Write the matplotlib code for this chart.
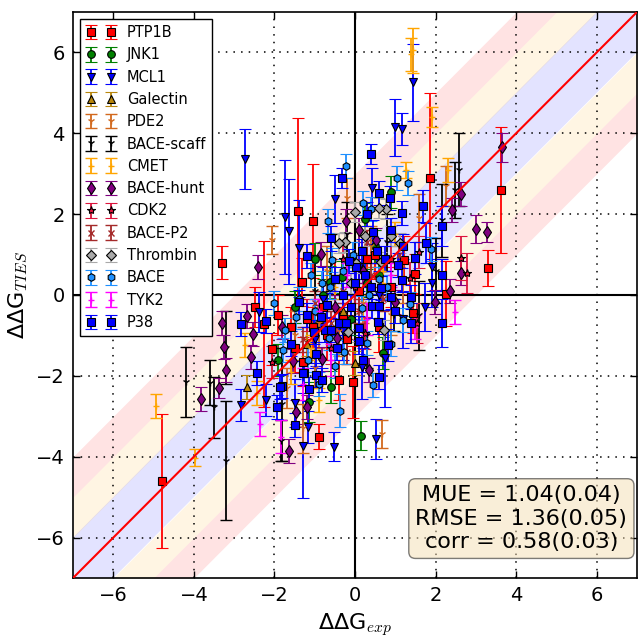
import numpy as np
import matplotlib
matplotlib.use('Agg')
import matplotlib.pyplot as plt

plt.rcParams['mathtext.fontset'] = 'cm'

# (dG_exp, dG_TIES, error)
ptp1b = [(-4.8, -4.6, 1.65), (-3.3, 0.8, 0.4), (-2.47, -0.3, 0.5), (-2.25, -0.72, 2.05),
         (-2.07, -1.33, 0.4), (-1.41, 2.07, 2.3), (-1.04, 1.83, 1.4), (-1.31, 0.32, 0.6),
         (-1.04, -0.79, 0.5), (-1.28, -1.65, 0.6), (-0.89, -3.5, 0.3), (-0.4, -2.1, 0.5),
         (-0.05, -2.15, 0.9), (1.85, 2.9, 2.1), (1.48, 0.52, 0.5), (1.21, 0.86, 0.6),
         (1.43, -0.45, 0.5), (2.25, 0.03, 0.8), (3.3, 0.67, 0.45), (3.63, 2.6, 1.55),
         (-0.8, -0.3, 0.6), (-0.5, 0.4, 0.5), (0.3, 0.9, 0.7), (0.6, -0.8, 0.6),
         (-1.6, -0.8, 0.5), (0.9, 0.2, 0.5), (-0.2, -1.1, 0.6), (-1.9, -0.5, 0.5),
         (-1.2, -0.6, 0.5), (-0.7, -1.0, 0.6), (0.1, 0.1, 0.5), (0.5, 1.0, 0.6),
         (-1.5, -1.3, 0.6), (-0.3, -0.5, 0.5)]
jnk1 = [(0.15, -3.48, 0.36), (-0.99, 0.89, 0.4), (-0.62, 0.32, 0.4), (0.25, 1.88, 0.4),
        (0.89, 2.54, 0.4), (0.69, -1.43, 0.4), (-0.59, -2.27, 0.4), (-1.14, -2.64, 0.5),
        (-0.32, 0.45, 0.4), (-1.5, -0.3, 0.4), (0.5, 1.2, 0.4), (-0.1, -0.6, 0.4),
        (-1.9, -1.6, 0.4), (0.3, 0.3, 0.35), (-0.8, 0.0, 0.4), (0.6, 0.5, 0.4)]
mcl1 = [(-2.72, 3.36, 0.75), (1.43, 5.26, 0.95), (0.99, 4.15, 0.7), (1.16, 4.1, 0.4),
        (-1.75, 1.93, 1.4), (-1.65, 1.58, 1.3), (-1.38, 1.16, 1.2), (-0.49, 2.37, 0.6),
        (0.42, 2.64, 0.5), (1.9, 0.69, 0.6), (1.9, 0.3, 0.6), (1.73, -0.3, 0.6),
        (0.74, -1.56, 1.2), (0.17, -1.78, 0.8), (-2.39, -0.42, 0.5), (-2.84, -2.72, 0.4),
        (-2.22, -2.59, 0.4), (-1.28, -3.73, 1.3), (-0.52, -3.75, 0.35), (0.52, -3.56, 0.5),
        (-1.16, -3.26, 0.4), (-1.48, -2.67, 0.6), (-0.8, -0.1, 0.8), (0.1, 0.7, 0.6),
        (-0.3, -0.9, 0.7), (1.2, -0.6, 0.7), (-1.0, -1.1, 0.7), (0.6, 0.0, 0.6)]
galectin = [(-2.69, -2.27, 0.3), (0.0, -1.68, 0.3), (-0.9, -0.6, 0.3), (0.4, 0.2, 0.3),
            (-0.3, -0.4, 0.3), (-1.2, -1.2, 0.3)]
pde2 = [(-2.07, 1.36, 0.35), (0.66, -3.43, 0.35), (2.25, 2.7, 0.5), (-1.7, -2.3, 0.5),
        (-1.3, -3.3, 0.6), (-1.0, -1.8, 0.5), (-0.4, -0.9, 0.6), (0.4, 1.2, 0.5),
        (-0.7, 0.6, 0.6), (1.2, 0.3, 0.5), (-1.5, -1.0, 0.6), (0.9, -0.5, 0.5),
        (-0.2, 2.4, 0.5), (1.6, 1.9, 0.6), (-0.9, -0.7, 0.6), (0.2, -0.2, 0.5)]
bace_scaff = [(-4.2, -2.15, 0.86), (-3.6, -2.17, 0.55), (-3.5, -2.78, 0.75), (-3.19, -1.3, 0.9),
              (-3.19, -4.1, 1.47), (-1.8, -2.7, 1.4), (-1.83, -3.6, 0.5), (2.59, 3.1, 0.9),
              (2.47, 2.6, 0.7), (2.17, 1.85, 0.9), (1.58, -0.5, 0.85), (0.96, -0.5, 0.4),
              (-0.6, 0.8, 0.7), (0.3, -1.0, 0.8), (-1.0, 0.1, 0.9), (0.8, 1.3, 0.7),
              (2.0, 0.6, 0.8), (-0.2, 1.5, 0.8)]
cmet = [(-4.94, -2.74, 0.3), (-3.98, -4.02, 0.2), (-2.74, -1.23, 0.3), (-2.44, -2.42, 0.3),
        (1.45, 6.05, 0.55), (1.38, 5.95, 0.4), (1.26, 3.1, 0.2), (1.9, 4.4, 0.25),
        (2.32, 3.1, 0.3), (-1.1, -1.3, 0.3), (-0.5, 0.2, 0.3), (0.2, -0.3, 0.3),
        (0.7, 0.6, 0.3), (-1.6, -1.9, 0.3), (1.0, 1.5, 0.3), (-0.9, -2.6, 0.3)]
bace_hunt = [(-3.31, -0.69, 0.3), (-3.26, -1.28, 0.3), (-3.21, -1.85, 0.3), (-3.38, -2.3, 0.25),
             (-3.83, -2.57, 0.3), (-2.69, -0.52, 0.3), (-2.52, -0.96, 0.3), (-2.57, -1.53, 0.3),
             (-1.63, -3.85, 0.3), (-2.42, 0.69, 0.3), (-0.22, 1.83, 0.3), (-0.84, 1.01, 0.3),
             (0.52, 1.36, 0.3), (2.42, 2.1, 0.3), (2.62, 0.54, 0.3), (1.98, -0.17, 0.3),
             (1.0, -0.17, 0.3), (0.35, -1.85, 0.3), (-1.53, -1.63, 0.3), (-1.8, -0.79, 0.3),
             (-0.44, -1.06, 0.3), (-0.81, -1.58, 0.3), (3.65, 3.65, 0.35), (3.0, 1.63, 0.35),
             (3.28, 1.55, 0.25), (2.62, 2.49, 0.3), (2.37, 0.1, 0.3), (-1.46, -2.89, 0.3),
             (-1.19, -2.77, 0.3), (0.2, 0.6, 0.3), (-0.5, -0.3, 0.3), (0.1, 1.6, 0.3)]
cdk2 = [(2.64, 0.91, 0.55), (2.79, 0.54, 0.5), (1.53, -0.69, 0.5), (1.58, 1.06, 0.4),
        (1.36, 0.42, 0.4), (0.25, -0.94, 0.4), (-2.07, -1.65, 0.4), (-0.6, -1.3, 0.4),
        (0.0, 0.2, 0.4), (-1.2, -0.5, 0.4), (0.9, 0.9, 0.4), (-0.3, 0.9, 0.4)]
bace_p2 = [(-0.3, 0.1, 0.3), (0.1, -0.4, 0.3), (-0.6, -0.7, 0.3), (0.4, 0.5, 0.3),
           (-1.0, -0.2, 0.3), (0.7, -0.1, 0.3), (-0.2, -1.4, 0.3), (1.1, 1.0, 0.3),
           (-1.3, -1.1, 0.3), (0.3, 1.3, 0.3)]
thrombin = [(-0.25, 1.31, 0.25), (0.02, 0.79, 0.25), (0.89, 1.46, 0.25), (0.77, 2.12, 0.25),
            (1.11, 1.28, 0.25), (0.0, 2.05, 0.25), (0.72, -0.86, 0.25), (-0.17, -0.91, 0.25),
            (0.59, 2.15, 0.25), (-0.4, 1.28, 0.25), (0.64, 0.81, 0.25), (0.25, 1.46, 0.25),
            (-0.1, 0.3, 0.25)]
bace = [(-0.22, 3.2, 0.3), (1.04, 2.9, 0.3), (-0.67, 1.83, 0.3), (1.31, 2.77, 0.3),
        (0.4, 2.12, 0.3), (0.2, 2.27, 0.3), (-0.57, 0.86, 0.3), (-0.81, 0.3, 0.3),
        (-0.62, 0.2, 0.3), (0.17, -0.32, 0.3), (1.36, -0.22, 0.3), (1.19, -0.62, 0.3),
        (-1.46, -0.54, 0.3), (-1.75, -0.86, 0.3), (-1.78, -1.36, 0.3), (-1.16, -1.6, 0.3),
        (-0.64, -1.06, 0.3), (0.3, -1.19, 0.3), (-0.27, -1.41, 0.3), (0.44, -2.22, 0.3),
        (-0.49, -1.75, 0.3), (1.88, 1.14, 0.3), (-0.37, -2.86, 0.4), (-1.1, 0.5, 0.3),
        (0.6, 0.4, 0.3), (-0.05, 1.0, 0.3), (-1.4, -0.1, 0.3), (0.9, -1.2, 0.3),
        (-0.9, -2.2, 0.3), (-2.0, -0.2, 0.3), (-0.3, 0.6, 0.3), (0.35, 0.0, 0.3),
        (-1.0, -0.4, 0.3), (0.8, 0.2, 0.3)]
tyk2 = [(-2.37, -3.19, 0.3), (2.47, -0.42, 0.3), (-1.83, -3.5, 0.4), (-1.3, -2.2, 0.4),
        (-0.6, -1.6, 0.4), (0.3, -0.6, 0.4), (0.9, 0.5, 0.3), (-0.9, -0.4, 0.3),
        (1.5, -0.8, 0.3), (-0.2, 0.5, 0.3)]
p38 = [(0.4, 3.48, 0.25), (-0.32, 2.9, 0.25), (0.59, 2.52, 0.3), (0.86, 2.4, 0.3),
       (1.16, 2.02, 0.3), (1.68, 2.2, 0.4), (1.75, 1.28, 0.5), (2.15, 1.7, 0.5),
       (1.48, 0.91, 0.4), (1.06, 0.74, 0.3), (2.15, 0.49, 0.4), (1.16, 0.37, 0.3),
       (0.17, 1.09, 0.3), (0.55, 1.1, 0.3), (0.02, 0.69, 0.3), (0.0, 0.3, 0.3),
       (0.4, 0.2, 0.3), (0.64, 0.17, 0.3), (1.38, -0.05, 0.3), (0.42, -0.27, 0.3),
       (0.59, -0.27, 0.3), (-0.1, -0.3, 0.3), (2.15, -0.69, 0.6), (1.38, -0.69, 0.5),
       (-1.38, -0.17, 0.3), (-1.19, -0.49, 0.3), (-1.01, -0.91, 0.3), (-0.74, -0.86, 0.3),
       (-0.59, -0.86, 0.3), (-0.4, -0.69, 0.3), (-0.22, -0.69, 0.3), (0.1, -0.81, 0.3),
       (0.57, -0.67, 0.3), (0.81, -1.23, 0.4), (-0.96, -1.46, 0.3), (-1.26, -1.93, 0.3),
       (-0.96, -1.98, 0.3), (-0.81, -2.1, 0.3), (-1.14, -2.32, 0.3), (-1.8, -2.25, 0.3),
       (-2.44, -1.93, 0.3), (0.59, -2.02, 0.3), (-2.84, -0.72, 0.3), (-2.2, -0.64, 0.3),
       (-1.48, -3.21, 0.3), (-1.93, -2.77, 0.3), (-1.85, -2.27, 0.3), (-1.28, -1.93, 0.3),
       (-1.19, 0.96, 0.3), (-0.6, 1.4, 0.3), (0.3, 2.0, 0.3), (-0.5, 0.4, 0.3),
       (0.9, 1.6, 0.3), (-1.6, -1.2, 0.3), (0.2, -1.6, 0.3), (1.0, -0.4, 0.3),
       (-0.3, 0.0, 0.3), (0.25, 0.5, 0.3), (-0.15, 0.85, 0.3), (0.75, 0.9, 0.3),
       (-0.7, -0.25, 0.3), (0.1, -1.15, 0.3), (-0.45, -1.3, 0.3), (1.2, 1.2, 0.3),
       (0.45, 1.55, 0.3), (0.9, -0.05, 0.3), (-0.85, -0.55, 0.3)]

names = ['PTP1B', 'JNK1', 'MCL1', 'Galectin', 'PDE2', 'BACE-scaff', 'CMET',
         'BACE-hunt', 'CDK2', 'BACE-P2', 'Thrombin', 'BACE', 'TYK2', 'P38']
datasets = [ptp1b, jnk1, mcl1, galectin, pde2, bace_scaff, cmet,
            bace_hunt, cdk2, bace_p2, thrombin, bace, tyk2, p38]
stats = ['MUE = 1.04(0.04)', 'RMSE = 1.36(0.05)', 'corr = 0.58(0.03)']

# colour, marker, marker size
styles = [('red', 's', 5.5), ('green', 'o', 5.5), ('blue', 'v', 6), ('darkgoldenrod', '^', 6),
          ('chocolate', '1', 5), ('black', '1', 5), ('orange', '+', 4),
          ('purple', 'd', 6.5), ('crimson', '*', 6), ('brown', 'x', 4.5),
          ('darkgrey', 'D', 5.5), ('dodgerblue', 'h', 5.5), ('magenta', '+', 4),
          ('blue', 's', 5.5)]

fig = plt.figure(figsize=(6.38, 6.39), dpi=100)
ax = fig.add_axes([73 / 638, 61 / 639, 564 / 638, 566 / 639])

lim = np.array([-7, 7])
for lo, hi, c in [(-1, 1, 'blue'), (1, 2, 'orange'), (-2, -1, 'orange'),
                  (2, 3, 'red'), (-3, -2, 'red')]:
    ax.fill_between(lim, lim + lo, lim + hi, color=c, alpha=0.11, lw=0, zorder=0)

ax.axhline(0, color='k', lw=1.5, zorder=1)
ax.axvline(0, color='k', lw=1.5, zorder=1)

for name, pts, (c, m, ms) in zip(names, datasets, styles):
    x, y, e = np.array(pts).T
    thin = m in '1+x'
    ax.errorbar(x, y, yerr=e, fmt=m, color=c, mfc=c, mec=c if thin else 'k',
                mew=1.0 if thin else 0.8, ecolor=c, ms=ms, capsize=4,
                elinewidth=1.3, capthick=1.3, label=name, zorder=3)

ax.plot(lim, lim, color='red', lw=1.5, zorder=4)

ax.set_xlim(-7, 7)
ax.set_ylim(-7, 7)
ax.set_xticks([-6, -4, -2, 0, 2, 4, 6])
ax.set_yticks([-6, -4, -2, 0, 2, 4, 6])
ax.tick_params(direction='in', top=True, right=True, length=5, width=1,
               labelsize=14, pad=6)
ax.grid(True, ls=(0, (1, 4)), color='k', lw=1.1)
ax.set_axisbelow(True)
for s in ax.spines.values():
    s.set_linewidth(1.2)

ax.set_xlabel('ΔΔG$_{exp}$', fontsize=16)
ax.set_ylabel('ΔΔG$_{TIES}$', fontsize=16)

ax.legend(loc='upper left', numpoints=2, fontsize=10.5, fancybox=False,
          framealpha=1, edgecolor='k', borderaxespad=0.5)

ax.text(0.795, 0.105, '\n'.join(stats), transform=ax.transAxes, fontsize=16,
        ha='center', va='center', multialignment='center', zorder=6,
        bbox=dict(boxstyle='round', facecolor='wheat', alpha=0.5))

fig.savefig('out.png', dpi=100)
